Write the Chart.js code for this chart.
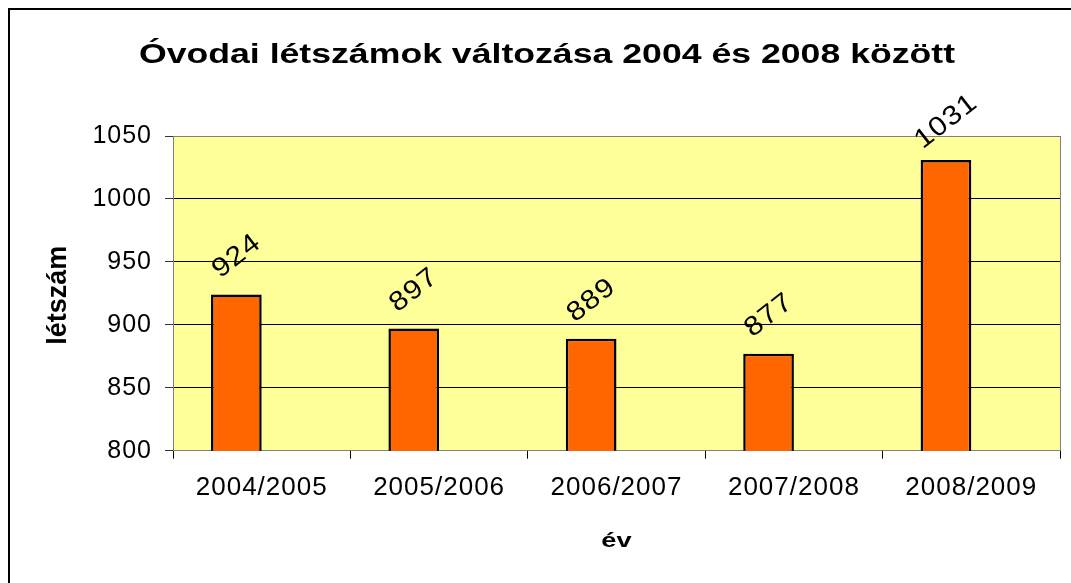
<!DOCTYPE html>
<html>
<head>
<meta charset="utf-8">
<script src="https://cdn.jsdelivr.net/npm/chart.js@4"></script>
<style>
    body { margin: 0; background: #fff; }
    #wrap { width: 1071px; height: 583px; }
</style>
</head>
<body>
<div id="wrap"><canvas id="chart"></canvas></div>
<script>
// Chart data
const categories = ['2004/2005', '2005/2006', '2006/2007', '2007/2008', '2008/2009'];
const letszam = [924, 897, 889, 877, 1031];
const emptySeries = [null, null, null, null, null]; // second (empty) series of the original sheet
const yTicks = [800, 850, 900, 950, 1000, 1050];
const chartTitle = 'Óvodai létszámok változása 2004 és 2008 között';
const xTitle = 'év';
const yTitle = 'létszám';

const FONT = '"Liberation Sans", Arial, sans-serif';
Chart.defaults.font.family = FONT;
Chart.defaults.color = '#000';

// text drawn a bit wider, like the Excel original
function drawText(ctx, text, x, y, font, stretch, angle) {
    ctx.save();
    ctx.translate(x, y);
    if (angle) ctx.rotate(angle * Math.PI / 180);
    ctx.scale(stretch, 1);
    ctx.font = font;
    ctx.letterSpacing = '0px';
    ctx.fillStyle = '#000';
    ctx.textAlign = 'center';
    ctx.textBaseline = 'alphabetic';
    ctx.fillText(text, 0, 0);
    ctx.restore();
}

const excelLook = {
    id: 'excelLook',
    beforeDraw(chart) {
        const { ctx, chartArea: a } = chart;
        ctx.save();
        ctx.fillStyle = '#fff';
        ctx.fillRect(0, 0, chart.width, chart.height);
        // outer frame (runs off the right and bottom edges)
        ctx.strokeStyle = '#000';
        ctx.lineWidth = 2;
        ctx.strokeRect(9, 9, chart.width + 40, chart.height + 40);
        // plot area
        ctx.fillStyle = '#FFFF99';
        ctx.fillRect(a.left, a.top, a.right - a.left, a.bottom - a.top);
        ctx.restore();
        ctx.letterSpacing = '1px';
    },
    afterDatasetsDraw(chart) {
        const ctx = chart.ctx;
        chart.getDatasetMeta(0).data.forEach((bar, i) => {
            ctx.save();
            ctx.translate(bar.x, bar.y - 38);
            ctx.rotate(-38 * Math.PI / 180);
            ctx.scale(1.12, 1);
            ctx.font = '27px ' + FONT;
            ctx.letterSpacing = '1px';
            ctx.fillStyle = '#000';
            ctx.textAlign = 'center';
            ctx.textBaseline = 'middle';
            ctx.fillText(String(letszam[i]), 0.5, 0);
            ctx.restore();
        });
    },
    afterDraw(chart) {
        const { ctx, chartArea: a } = chart;
        // right border of the plot area
        ctx.save();
        ctx.strokeStyle = '#808080';
        ctx.lineWidth = 1;
        ctx.beginPath();
        ctx.moveTo(Math.round(a.right) + 0.5, a.top);
        ctx.lineTo(Math.round(a.right) + 0.5, a.bottom);
        ctx.stroke();
        ctx.restore();

        drawText(ctx, chartTitle, 547, 63, 'bold 27px ' + FONT, 1.32);
        drawText(ctx, xTitle, (a.left + a.right) / 2, 547, 'bold 20px ' + FONT, 1.36);
        drawText(ctx, yTitle, 66, (a.top + a.bottom) / 2 + 2, 'bold 27px ' + FONT, 1, -90);
    }
};

new Chart(document.getElementById('chart'), {
    type: 'bar',
    data: {
        labels: categories,
        datasets: [{
            label: yTitle,
            data: letszam,
            backgroundColor: '#FF6600',
            borderColor: '#000',
            borderWidth: 2.5,
            borderSkipped: false,
            categoryPercentage: 2 / 3.5,
            barPercentage: 1
        }, {
            label: '',
            data: emptySeries,
            backgroundColor: '#9999FF',
            categoryPercentage: 2 / 3.5,
            barPercentage: 1
        }]
    },
    options: {
        responsive: true,
        maintainAspectRatio: false,
        animation: false,
        layout: { padding: { top: 136, left: 30, right: 11, bottom: 0 } },
        plugins: {
            legend: { display: false },
            title: { display: false },
            tooltip: { enabled: false }
        },
        scales: {
            x: {
                offset: true,
                grid: { drawOnChartArea: false, drawTicks: true, tickLength: 8, color: '#000', offset: true },
                border: { color: '#808080', width: 1 },
                ticks: { font: { size: 26 }, padding: 14, maxRotation: 0, autoSkip: false },
                afterFit: s => { s.height = 132.3; }
            },
            y: {
                min: 800,
                max: 1050,
                afterBuildTicks: s => { s.ticks = yTicks.map(v => ({ value: v })); },
                grid: {
                    color: c => (c.tick && (c.tick.value === 1050 || c.tick.value === 800)) ? '#808080' : '#000',
                    tickColor: '#333',
                    tickLength: 8,
                    lineWidth: 1
                },
                border: { color: '#808080', width: 1 },
                ticks: { font: { size: 25 }, padding: 13, callback: v => String(v) },
                afterFit: s => { s.width = 143; }
            }
        }
    },
    plugins: [excelLook]
});
</script>
</body>
</html>
